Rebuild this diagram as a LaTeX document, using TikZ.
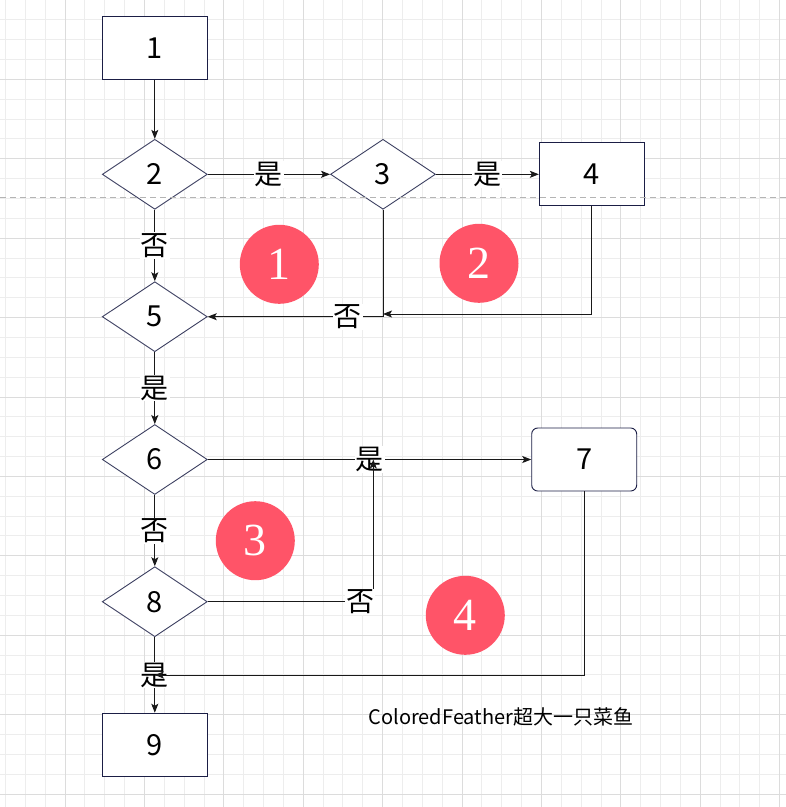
\documentclass[tikz,border=0pt]{standalone}
\usepackage{fontspec}
\setmainfont{Noto Sans CJK SC}
\newfontfamily\numfont{Liberation Serif}
\usepackage{tikz}
\usetikzlibrary{arrows.meta,positioning,shapes.geometric,calc}
\definecolor{gridminor}{HTML}{EDEDED}
\definecolor{gridmajor}{HTML}{DCDCDC}
\definecolor{deepnavy}{HTML}{1B1E45}
\definecolor{badgered}{HTML}{FF5468}
\definecolor{breakgray}{HTML}{B4B4B4}

\begin{document}
\begin{tikzpicture}[
 x=1pt,y=-1pt,
 n/.style={draw=deepnavy,fill=white,line width=0.9pt,minimum width=105pt,minimum height=63pt,inner sep=0pt,font=\fontsize{29}{30}\selectfont},
 dec/.style={n,diamond,minimum height=70pt,draw=deepnavy!85},
 rnd/.style={n,rounded corners=6pt},
 lab/.style={fill=white,inner sep=1pt,font=\fontsize{28}{30}\selectfont},
 badge/.style={circle,fill=badgered,text=white,minimum size=79pt,inner sep=0pt,font=\numfont\fontsize{46}{48}\selectfont},
 flow/.style={draw=black!90,line width=0.9pt,-{Stealth[length=9pt,width=7pt,inset=2pt]}}
]
\useasboundingbox (0,0) rectangle (786,807);
\fill[white] (0,0) rectangle (786,807);
% grid
\foreach \k in {0,...,39}
 \draw[gridminor,line width=0.8pt] ({5.4+19.85*\k},0) -- ({5.4+19.85*\k},807);
\foreach \k in {1,...,40}
 \draw[gridminor,line width=0.8pt] (0,{-0.1+19.85*\k}) -- (786,{-0.1+19.85*\k});
\foreach \k in {3,7,...,39}
 \draw[gridmajor,line width=0.8pt] ({5.4+19.85*\k},0) -- ({5.4+19.85*\k},807);
\foreach \k in {4,8,...,40}
 \draw[gridmajor,line width=0.8pt] (0,{-0.1+19.85*\k}) -- (786,{-0.1+19.85*\k});

% steps
\node[n]   (n1) at (154.8,47.7)  {1};
\node[dec] (d2) at (154.8,174.3) {2};
\node[dec] (d3) at (383,174.3)   {3};
\node[n]   (n4) at (591.8,174.3) {4};
\node[dec] (d5) at (154.8,316.7) {5};
\node[dec] (d6) at (154.8,459.5) {6};
\node[rnd] (n7) at (584.2,459.5) {7};
\node[dec] (d8) at (154.8,601.7) {8};
\node[n]   (n9) at (154.8,744.7) {9};

\coordinate (m4) at (383,314);
\coordinate (m8) at (373.3,459.5);
\coordinate (m7) at (154.8,675);

% connectors
\draw[flow] (n1) -- (d2);
\draw[flow] (d2) -- node[lab] (l23) {是} (d3);
\draw[flow] (d3) -- node[lab] (l34) {是} (n4);
\draw[flow] (d2) -- node[lab] (l25) {否} (d5);
\draw[flow] (d3.south) |- node[lab,pos=0.6] (l35) {否} (d5.east);
\draw[flow] (n4.south) |- (m4);
\draw[flow] (d5) -- node[lab] (l56) {是} (d6);
\draw[flow] (d6) -- node[lab] (l67) {是} (n7);
\draw[flow] (d6) -- node[lab] (l68) {否} (d8);
\draw[flow] (d8.east) -| node[lab,pos=0.46] (l87) {否} (m8);
\draw[flow] (d8) -- node[lab] (l89) {是} (n9);
\draw[flow] (n7.south) |- (m7);

% badges
\node[badge] (b1) at (279.3,264.3) {1};
\node[badge] (b2) at (479,263.3)   {2};
\node[badge] (b3) at (255.3,540.7) {3};
\node[badge] (b4) at (465.3,615.3) {4};

\node (sig) at (501,717) {\fontsize{20}{22}\selectfont ColoredFeather超大一只菜鱼};

% page break line
\draw[breakgray,line width=0.9pt,dash pattern=on 6pt off 4pt] (0,197.7) -- (786,197.7);
\end{tikzpicture}
\end{document}
